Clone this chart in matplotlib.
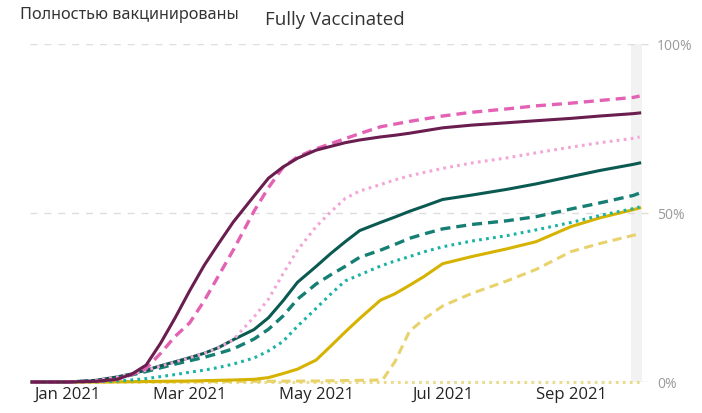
import matplotlib
matplotlib.use("Agg")
import matplotlib.pyplot as plt
import pandas as pd

# ---- data (percent fully vaccinated) ----
dates = ["2020-12-15", "2021-01-01", "2021-01-15", "2021-01-25", "2021-02-01",
         "2021-02-08", "2021-02-15", "2021-02-22", "2021-03-01", "2021-03-08",
         "2021-03-15", "2021-03-22", "2021-04-01", "2021-04-08", "2021-04-15",
         "2021-04-22", "2021-05-01", "2021-05-08", "2021-05-15", "2021-05-22",
         "2021-06-01", "2021-06-08", "2021-06-15", "2021-06-22", "2021-07-01",
         "2021-07-15", "2021-08-01", "2021-08-15", "2021-09-01", "2021-09-15",
         "2021-10-01", "2021-10-04"]

purple_solid = [0, 0, 0.2, 0.8, 2.3, 5, 11.5, 19, 27, 34.5, 41, 47.3, 55, 60.3,
                63.6, 66.2, 68.6, 69.7, 70.8, 71.6, 72.5, 73, 73.6, 74.3, 75.2,
                76, 76.7, 77.3, 78, 78.7, 79.4, 79.6]
pink_dashed = [0, 0, 0.2, 0.8, 2.2, 4, 8.5, 13.5, 17.5, 24, 31.5, 39, 50.5,
               57.5, 63.5, 66.6, 69, 70.5, 72, 73.5, 75.5, 76.3, 77.1, 77.8,
               78.7, 79.8, 80.8, 81.7, 82.5, 83.3, 84.2, 84.6]
pink_dotted = [0, 0, 0.5, 1.5, 2.4, 3.5, 4.7, 5.9, 7.2, 8.5, 10.2, 12.5, 19.2,
               24.5, 32, 39, 46, 50.3, 54.3, 56.5, 58.4, 59.8, 61, 62, 63.2,
               64.8, 66.3, 67.8, 69.5, 70.8, 72.1, 72.5]
teal_solid = [0, 0, 0.5, 1.5, 2.4, 3.5, 4.8, 6, 7.2, 8.5, 10.2, 12.5, 15.5, 19,
              24, 29.5, 34.2, 38, 41.5, 44.8, 47.2, 48.8, 50.5, 52, 54, 55.3,
              57, 58.6, 60.8, 62.6, 64.4, 64.8]
teal_dashed = [0, 0, 0.4, 1.3, 2.1, 3.1, 4.2, 5.3, 6.3, 7.3, 8.5, 9.8, 12.7,
               15.6, 19.5, 24.5, 29, 31.7, 34.2, 36.9, 39, 40.7, 42.5, 43.8,
               45.3, 46.6, 47.7, 48.9, 51.2, 53, 55.2, 55.9]
teal_dotted = [0, 0, 0.1, 0.3, 0.6, 1.0, 1.6, 2.2, 2.9, 3.5, 4.3, 5.3, 7.1, 9.2,
               12, 16.5, 21.8, 26, 29.9, 31.7, 34.3, 35.8, 37.1, 38.5, 40,
               41.7, 43.3, 45, 47.2, 49.3, 51.3, 51.8]
gold_solid = [0, 0, 0, 0.05, 0.1, 0.15, 0.2, 0.25, 0.3, 0.4, 0.5, 0.6, 0.8, 1.3,
              2.5, 3.8, 6.5, 10.6, 14.8, 18.8, 24.2, 26.1, 28.6, 31.2, 35,
              37.1, 39.4, 41.5, 46, 48.6, 51, 51.5]

gold_dashed_dates = ["2020-12-15", "2021-03-01", "2021-05-01", "2021-06-02",
                     "2021-06-08", "2021-06-15", "2021-06-22", "2021-07-01",
                     "2021-07-15", "2021-08-01", "2021-08-15", "2021-09-01",
                     "2021-09-15", "2021-10-01", "2021-10-04"]
gold_dashed = [0, 0.1, 0.3, 0.6, 6, 15, 18.6, 22.5, 26.2, 29.9, 33.3, 38.6,
               41, 43.4, 43.8]
gold_dotted = [0] * len(dates)

y_ticks = [0, 50, 100]
y_labels = ["0%", "50%", "100%"]
x_ticks = ["2021-01-01", "2021-03-01", "2021-05-01", "2021-07-01", "2021-09-01"]
x_labels = ["Jan 2021", "Mar 2021", "May 2021", "Jul 2021", "Sep 2021"]

title = "Fully Vaccinated"
subtitle = "Полностью вакцинированы"

# ---- figure ----
fig = plt.figure(figsize=(7.02, 4.14), dpi=100)
ax = fig.add_axes([30 / 702, 1 - 383 / 414, 620 / 702, 338 / 414])

d = pd.to_datetime(dates)
dg = pd.to_datetime(gold_dashed_dates)

ax.axvspan(pd.Timestamp("2021-09-30"), pd.Timestamp("2021-10-05"),
           color="#F2F2F2", zorder=0, lw=0)

for yv in y_ticks:
    ax.axhline(yv, color="#DDDDDD", lw=1, ls=(0, (5, 5)), zorder=1)

lw = 2.2
dot = (0, (0.9, 1.4))
dash = (0, (3, 1.8))
ax.plot(d, gold_dotted, color="#EBDB8E", lw=lw, ls=dot, clip_on=False, zorder=2)
ax.plot(dg, gold_dashed, color="#E8D26C", lw=lw, ls=dash, clip_on=False, zorder=3)
ax.plot(d, gold_solid, color="#D5B300", lw=lw, clip_on=False, zorder=4)
ax.plot(d, teal_dotted, color="#19B2A5", lw=lw, ls=dot, clip_on=False, zorder=4)
ax.plot(d, teal_dashed, color="#157F74", lw=lw + 0.2, ls=dash, clip_on=False, zorder=4)
ax.plot(d, teal_solid, color="#0B5A52", lw=lw, clip_on=False, zorder=4)
ax.plot(d, pink_dotted, color="#F2A6D6", lw=lw, ls=dot, clip_on=False, zorder=4)
ax.plot(d, pink_dashed, color="#E462B4", lw=lw + 0.2, ls=dash, clip_on=False, zorder=5)
ax.plot(d, purple_solid, color="#6A1D4F", lw=lw, clip_on=False, zorder=6)

ax.set_xlim(pd.Timestamp("2020-12-14"), pd.Timestamp("2021-10-09"))
ax.set_ylim(0, 100)

for s in ax.spines.values():
    s.set_visible(False)

ax.yaxis.tick_right()
ax.set_yticks(y_ticks)
ax.set_yticklabels(y_labels, fontfamily="Open Sans", fontsize=10, color="#9A9A9A")
ax.tick_params(axis="y", length=0, pad=5)

ax.set_xticks(pd.to_datetime(x_ticks))
ax.set_xticklabels(x_labels, fontfamily="Open Sans", fontsize=12, color="#252423")
ax.tick_params(axis="x", length=0, pad=3)

fig.text(335 / 702, 1 - 20 / 414, title, ha="center", va="center",
         fontfamily="Open Sans", fontsize=13.5, color="#333333")
fig.text(20 / 702, 1 - 15 / 414, subtitle, ha="left", va="center",
         fontfamily=["Noto Sans", "DejaVu Sans"], fontsize=11.7, color="#333333")

fig.savefig("out.png", dpi=100)
